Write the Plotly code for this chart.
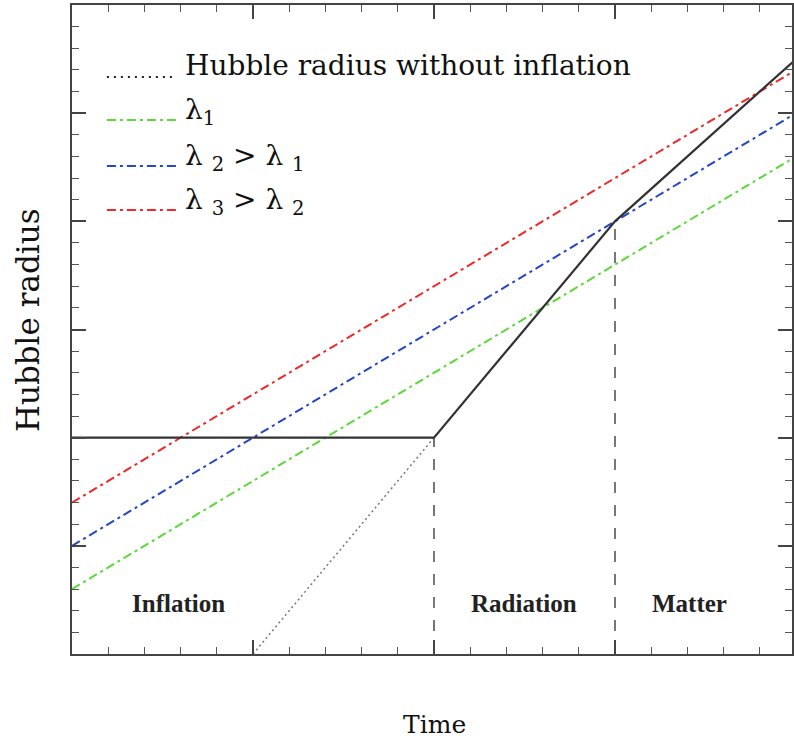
import plotly.graph_objects as go

# ---- data (log-time units, log-radius units) ----
epoch_times = [0, 10, 15, 20]          # start, end of inflation, radiation->matter, end
hubble_radius = [10, 10, 20, 27.5]     # Hubble radius with inflation
no_infl_times = [5, 10]
no_infl_radius = [0, 10]               # Hubble radius without inflation
lambda_times = [0, 20]
lambda1 = [3, 23]
lambda2 = [5, 25]
lambda3 = [7, 27]
boundary_times = [10, 15]              # epoch boundaries (dashed)
boundary_tops = [10, 20]

legend_labels = ["Hubble radius without inflation",
                 "λ<sub>1</sub>",
                 "λ <sub>2</sub> > λ <sub>1</sub>",
                 "λ <sub>3</sub> > λ <sub>2</sub>"]
region_labels = ["Inflation", "Radiation", "Matter"]
x_title = "Time"
y_title = "Hubble radius"

GREEN = "#5cd83a"
BLUE = "#2446c8"
RED = "#f02828"
DASHDOT = "9px,4px,3px,4px"

fig = go.Figure()

# wavelength lines
for ys, c in [(lambda1, GREEN), (lambda2, BLUE), (lambda3, RED)]:
    fig.add_trace(go.Scatter(x=lambda_times, y=ys, mode="lines",
                             line=dict(color=c, width=2, dash=DASHDOT),
                             showlegend=False, hoverinfo="skip"))

# Hubble radius without inflation (dotted)
fig.add_trace(go.Scatter(x=no_infl_times, y=no_infl_radius, mode="lines",
                         line=dict(color="#777777", width=1.5, dash="2px,3px"),
                         showlegend=False, hoverinfo="skip"))

# epoch boundary dashed lines
bx, by = [], []
for t, top in zip(boundary_times, boundary_tops):
    bx += [t, t, None]
    by += [0, top, None]
fig.add_trace(go.Scatter(x=bx, y=by, mode="lines",
                         line=dict(color="#777777", width=2, dash="11px,12px"),
                         showlegend=False, hoverinfo="skip"))

# Hubble radius with inflation
fig.add_trace(go.Scatter(x=epoch_times, y=hubble_radius, mode="lines",
                         line=dict(color="#333333", width=2.2),
                         showlegend=False, hoverinfo="skip"))

W, H = 794, 742
ML, MR, MT, MB = 72, 0, 5, 88
PW, PH = W - ML - MR, H - MT - MB

def px(xp):
    return (xp - ML) / PW

def py(yp):
    return (H - MB - yp) / PH

shapes = []
annotations = []
legend_styles = [("#222222", "2px,5px"), (GREEN, DASHDOT), (BLUE, DASHDOT), (RED, DASHDOT)]
legend_y = [77, 120, 166, 210]
legend_off = [7, 12, 12, 12]
for lab, (c, d), ly, off in zip(legend_labels, legend_styles, legend_y, legend_off):
    shapes.append(dict(type="line", xref="paper", yref="paper",
                       x0=px(107), x1=px(177), y0=py(ly), y1=py(ly),
                       line=dict(color=c, width=2, dash=d)))
    annotations.append(dict(text=lab, xref="paper", yref="paper",
                            x=px(183), y=py(ly + off), xanchor="left", yanchor="bottom",
                            showarrow=False,
                            font=dict(family="DejaVu Serif", size=28, color="#111111")))

region_pos = [(2.95, 2.35), (12.48, 2.35), (17.05, 2.35)]
for lab, (rx, ry) in zip(region_labels, region_pos):
    annotations.append(dict(text="<b>" + lab + "</b>", x=rx, y=ry, xref="x", yref="y",
                            xanchor="center", yanchor="middle", showarrow=False,
                            font=dict(family="Liberation Serif", size=25, color="#222222")))

annotations.append(dict(text=x_title, xref="paper", yref="paper", x=px(436), y=py(724),
                        xanchor="center", yanchor="middle", showarrow=False,
                        font=dict(family="DejaVu Serif", size=25, color="#111111")))
annotations.append(dict(text=y_title, xref="paper", yref="paper", x=px(28), y=py(320),
                        xanchor="center", yanchor="middle", showarrow=False, textangle=-90,
                        font=dict(family="DejaVu Serif", size=31, color="#111111")))

axis_common = dict(showgrid=False, zeroline=False, showticklabels=False,
                   showline=True, linecolor="#444444", linewidth=2,
                   mirror="ticks", ticks="inside", ticklen=14, tickwidth=1.5,
                   tickcolor="#444444", dtick=5, tick0=0,
                   minor=dict(ticks="inside", ticklen=7, dtick=1, tickwidth=1.2,
                              tickcolor="#555555", showgrid=False))

fig.update_layout(
    width=W, height=H,
    margin=dict(l=ML, r=MR, t=MT, b=MB),
    paper_bgcolor="white", plot_bgcolor="white",
    shapes=shapes, annotations=annotations,
    xaxis=dict(range=[0, PW / 36.3], **axis_common),
    yaxis=dict(range=[0, 30], **axis_common),
    showlegend=False,
)

fig.write_html("out.html")
